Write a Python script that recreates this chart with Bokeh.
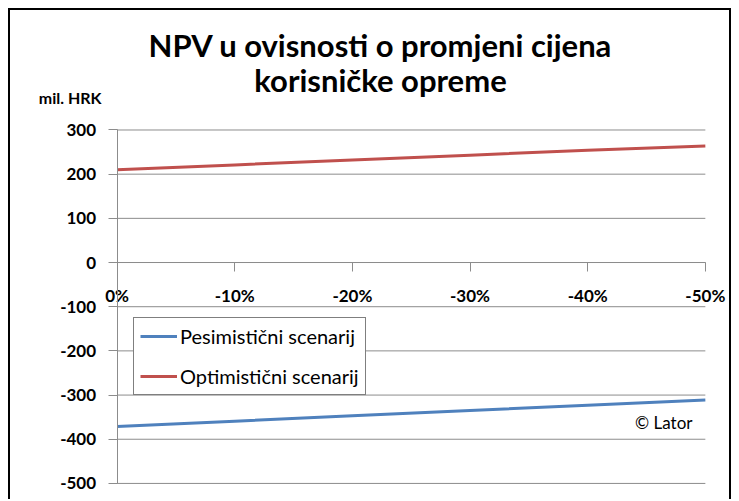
from bokeh.plotting import figure
from bokeh.models import Range1d, FixedTicker, Label, Legend, LegendItem
from bokeh.embed import file_html
from bokeh.resources import INLINE

# ---- data ----
x_pct = [0, -10, -20, -30, -40, -50]
x_labels = ["0%", "-10%", "-20%", "-30%", "-40%", "-50%"]
pesimisticni = [-371, -359, -347, -335, -323, -311]
optimisticni = [210, 221, 232, 243, 254, 264]
y_ticks = [300, 200, 100, 0, -100, -200, -300, -400, -500]
y_labels = ["300", "200", "100", "0", "-100", "-200", "-300", "-400", "-500"]
series_names = ["Pesimistični scenarij", "Optimistični scenarij"]
title_lines = ["NPV u ovisnosti o promjeni cijena", "korisničke opreme"]
y_unit = "mil. HRK"
credit = "© Lator"

# ---- layout geometry (pixels inside the bordered box) ----
FONT = "Lato"
GRID = "#8c8c8c"
W, H = 723, 491           # outer size incl. 2px border (left/top/right)
CW, CH = W - 4, H - 2     # canvas size
# plot-area corners in canvas pixels
PA_L, PA_R, PA_T, PA_B = 106, 691, 119, 471
X_FIRST, X_LAST = x_pct[0], x_pct[-1]
Y_LO, Y_HI = min(y_ticks), max(y_ticks)
ux = (X_LAST - X_FIRST) / (PA_R - PA_L)
uy = (Y_HI - Y_LO) / (PA_B - PA_T)
x_range = Range1d(X_FIRST - PA_L * ux, X_LAST + (CW - PA_R) * ux)
y_range = Range1d(Y_LO - (CH - PA_B) * uy, Y_HI + PA_T * uy)

p = figure(width=W, height=H, output_backend="svg", toolbar_location=None,
           x_range=x_range, y_range=y_range,
           min_border_left=0, min_border_right=0, min_border_top=0, min_border_bottom=0,
           styles={"margin-left": "8px", "margin-top": "8px",
                   "border-left": "2px solid black", "border-top": "2px solid black",
                   "border-right": "2px solid black"})
p.outline_line_color = None
p.background_fill_color = "white"
p.border_fill_color = "white"
p.xgrid.grid_line_color = None
p.ygrid.grid_line_color = None

# horizontal gridlines over the category span
p.segment(x0=[X_FIRST] * len(y_ticks), x1=[X_LAST] * len(y_ticks), y0=y_ticks, y1=y_ticks,
          line_color=GRID, line_width=1)

# x axis crossing at zero
xa = p.xaxis[0]
xa.fixed_location = 0
xa.bounds = (X_LAST, X_FIRST)
xa.ticker = FixedTicker(ticks=x_pct)
xa.major_label_overrides = {v: l for v, l in zip(x_pct, x_labels)}
xa.axis_line_color = GRID
xa.major_tick_line_color = GRID
xa.major_tick_out = 9
xa.major_tick_in = 0
xa.minor_tick_line_color = None
xa.major_label_standoff = 13
xa.major_label_text_font = FONT
xa.major_label_text_font_style = "bold"
xa.major_label_text_font_size = "17px"
xa.major_label_text_color = "black"

# y axis at the first category
ya = p.yaxis[0]
ya.fixed_location = X_FIRST
ya.bounds = (Y_LO, Y_HI)
ya.ticker = FixedTicker(ticks=y_ticks)
ya.major_label_overrides = {v: l for v, l in zip(y_ticks, y_labels)}
ya.axis_line_color = GRID
ya.major_tick_line_color = GRID
ya.major_tick_out = 9
ya.major_tick_in = 0
ya.minor_tick_line_color = None
ya.major_label_standoff = 12
ya.major_label_text_font = FONT
ya.major_label_text_font_style = "bold"
ya.major_label_text_font_size = "17px"
ya.major_label_text_color = "black"

r_pes = p.line(x_pct, pesimisticni, line_color="#4F81BD", line_width=3)
r_opt = p.line(x_pct, optimisticni, line_color="#C0504D", line_width=3)

legend = Legend(items=[LegendItem(label=series_names[0], renderers=[r_pes]),
                       LegendItem(label=series_names[1], renderers=[r_opt])],
                location=(123, 106), orientation="vertical")
legend.border_line_color = "black"
legend.border_line_width = 1
legend.background_fill_alpha = 1
legend.padding = 6
legend.spacing = 16
legend.margin = 0
legend.glyph_width = 37
legend.glyph_height = 20
legend.label_height = 20
legend.label_standoff = 3
legend.label_text_font = FONT
legend.label_text_font_size = "20px"
legend.label_text_color = "black"
p.add_layout(legend, "center")

# texts (screen units from the canvas bottom-left)
title_y = [CH - 32, CH - 67]
for t, ty in zip(title_lines, title_y):
    p.add_layout(Label(x=370, y=ty, x_units="screen", y_units="screen",
                       text=t, text_align="center", text_baseline="middle",
                       text_font=FONT, text_font_style="bold", text_font_size="31px",
                       text_color="black"))

p.add_layout(Label(x=91, y=CH - 85, x_units="screen", y_units="screen",
                   text=y_unit, text_align="right", text_baseline="middle",
                   text_font=FONT, text_font_style="bold", text_font_size="16px",
                   text_color="black"))

p.add_layout(Label(x=682, y=CH - 410, x_units="screen", y_units="screen",
                   text=credit, text_align="right", text_baseline="middle",
                   text_font=FONT, text_font_size="17px", text_color="black"))

open("out.html", "w").write(file_html(p, INLINE))
